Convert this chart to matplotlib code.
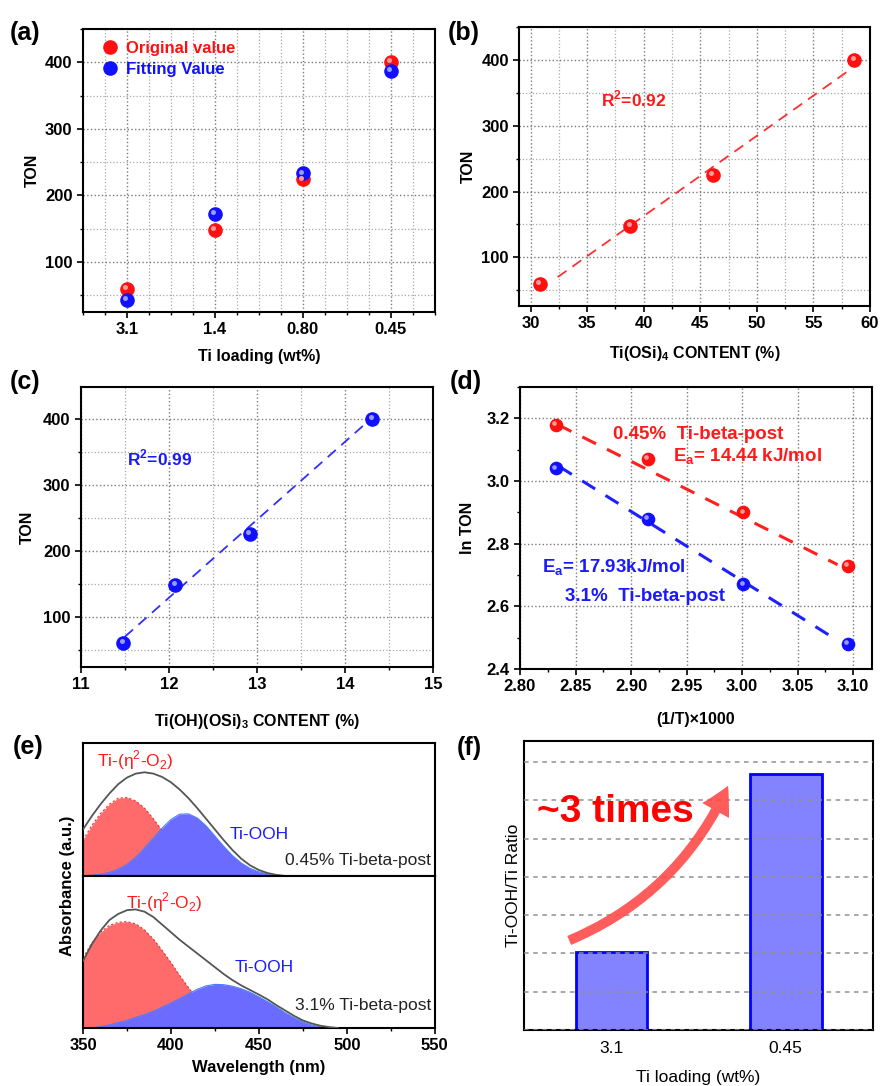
import numpy as np
import matplotlib
matplotlib.use('Agg')
import matplotlib.pyplot as plt
from matplotlib.ticker import MultipleLocator, FormatStrFormatter
from matplotlib.transforms import offset_copy

plt.rcParams['font.family'] = ['Liberation Sans', 'DejaVu Sans']
plt.rcParams['font.weight'] = 'bold'
plt.rcParams['axes.labelweight'] = 'bold'
plt.rcParams['axes.linewidth'] = 1.5
plt.rcParams['xtick.major.width'] = 1.2
plt.rcParams['ytick.major.width'] = 1.2
plt.rcParams['xtick.minor.width'] = 1.0
plt.rcParams['ytick.minor.width'] = 1.0

# (a) TON vs Ti loading
loading = ['3.1', '1.4', '0.80', '0.45']
ton_orig = [60, 148, 224, 400]
ton_fit = [43, 172, 233, 387]

# (b) TON vs Ti(OSi)4 content
osi4 = [30.8, 38.8, 46.1, 58.6]
ton = [60, 148, 225, 400]
osi4_line_x = [32.4, 58.3]
osi4_line_y = [70, 386]

# (c) TON vs Ti(OH)(OSi)3 content
ohosi3 = [11.48, 12.07, 12.92, 14.31]
ohosi3_line_x = [11.5, 14.22]
ohosi3_line_y = [70, 391]

# (d) Arrhenius
inv_t = [2.832, 2.915, 3.001, 3.095]
ln_ton_045 = [3.18, 3.07, 2.90, 2.73]
ln_ton_31 = [3.04, 2.88, 2.67, 2.48]
line_x_045 = [2.834, 3.086]
line_y_045 = [3.18, 2.733]
line_x_31 = [2.835, 3.082]
line_y_31 = [3.047, 2.50]

# (e) UV-vis deconvolution
wl = [350, 355, 360, 365, 370, 375, 380, 385, 390, 395, 400, 405, 410, 415, 420,
      425, 430, 435, 440, 445, 450, 455, 460, 465, 470, 475, 480, 485, 490, 495]
env_045 = [0.35, 0.45, 0.54, 0.62, 0.69, 0.74, 0.77, 0.78, 0.77, 0.745, 0.705, 0.65, 0.585, 0.51, 0.43,
           0.35, 0.27, 0.195, 0.13, 0.08, 0.045, 0.022, 0.008, 0.0, 0.0, 0.0, 0.0, 0.0, 0.0, 0.0]
red_045 = [0.27, 0.38, 0.47, 0.54, 0.585, 0.59, 0.565, 0.51, 0.43, 0.34, 0.25, 0.17, 0.11, 0.07, 0.04,
           0.02, 0.01, 0.0, 0.0, 0.0, 0.0, 0.0, 0.0, 0.0, 0.0, 0.0, 0.0, 0.0, 0.0, 0.0]
blue_045 = [0.0, 0.006, 0.013, 0.027, 0.05, 0.087, 0.14, 0.21, 0.285, 0.36, 0.425, 0.465, 0.467, 0.436, 0.377,
            0.30, 0.223, 0.153, 0.097, 0.057, 0.031, 0.016, 0.007, 0.0, 0.0, 0.0, 0.0, 0.0, 0.0, 0.0]
env_31 = [0.44, 0.55, 0.64, 0.71, 0.75, 0.775, 0.78, 0.765, 0.73, 0.68, 0.63, 0.58, 0.535, 0.49, 0.445,
          0.40, 0.355, 0.315, 0.28, 0.25, 0.22, 0.188, 0.15, 0.115, 0.08, 0.05, 0.03, 0.015, 0.006, 0.0]
red_31 = [0.46, 0.56, 0.63, 0.675, 0.695, 0.70, 0.685, 0.645, 0.585, 0.51, 0.43, 0.345, 0.265, 0.19, 0.13,
          0.085, 0.05, 0.028, 0.013, 0.0, 0.0, 0.0, 0.0, 0.0, 0.0, 0.0, 0.0, 0.0, 0.0, 0.0]
blue_31 = [0.0, 0.0, 0.01, 0.02, 0.035, 0.05, 0.07, 0.088, 0.11, 0.137, 0.165, 0.193, 0.225, 0.255, 0.277,
           0.287, 0.285, 0.275, 0.258, 0.235, 0.205, 0.173, 0.138, 0.10, 0.068, 0.04, 0.02, 0.008, 0.0, 0.0]

# (f) Ti-OOH/Ti ratio
ratio_labels = ['3.1', '0.45']
ratio = [0.203, 0.67]

RED = '#ff1a1a'
BLUE = '#1a1aff'

fig = plt.figure(figsize=(8.8, 10.86), dpi=100)


def balls(ax, x, y, color, shine, size=9.5, label=None):
    ax.plot(x, y, 'o', ms=size, color=color, mec=color, zorder=4, label=label)
    tr = offset_copy(ax.transData, fig=fig, x=-size * 0.12, y=size * 0.14, units='points')
    ax.plot(x, y, 'o', ms=size * 0.38, color=shine, mec='none', transform=tr, zorder=5)


def style(ax, xmaj, xmin, ymaj, ymin, minor_grid=True):
    ax.xaxis.set_major_locator(MultipleLocator(xmaj))
    ax.xaxis.set_minor_locator(MultipleLocator(xmin))
    ax.yaxis.set_major_locator(MultipleLocator(ymaj))
    ax.yaxis.set_minor_locator(MultipleLocator(ymin))
    ax.tick_params(which='major', labelsize=12, length=4, direction='out')
    ax.tick_params(which='minor', length=2.5, direction='out')
    ax.grid(True, which='major', linestyle=':', color='#7a7a7a', linewidth=1.0)
    if minor_grid:
        ax.grid(True, which='minor', linestyle=':', color='#a8a8a8', linewidth=0.9)
    ax.set_axisbelow(True)


# ---------- (a)
ax = fig.add_axes([0.0943, 0.7127, 0.3997, 0.2606])
pos = np.arange(len(loading))
balls(ax, pos, ton_orig, '#ff1010', '#ff9a9a', label='Original value')
balls(ax, pos, ton_fit, '#1010ff', '#9a9aff', label='Fitting Value')
ax.set_xlim(-0.5, 3.5)
ax.set_ylim(25, 450)
style(ax, 1, 0.25, 100, 50)
ax.set_xticks(pos)
ax.set_xticklabels(loading)
ax.set_xlabel('Ti loading (wt%)', fontsize=11.5, labelpad=8.5)
ax.set_ylabel('TON', fontsize=11.5)
leg = ax.legend(loc='upper left', bbox_to_anchor=(0.02, 1.0), frameon=False, fontsize=12,
                handletextpad=0.45, labelspacing=0.4, handlelength=1.0, borderaxespad=0.3)
for t, c in zip(leg.get_texts(), ['#ff1010', '#1010ff']):
    t.set_color(c)

# ---------- (b)
ax = fig.add_axes([0.590, 0.7182, 0.3986, 0.2569])
ax.plot(osi4_line_x, osi4_line_y, color='#ff3030', lw=1.3, dashes=(6, 4), zorder=3)
balls(ax, osi4, ton, '#ff1010', '#ff9a9a')
ax.set_xlim(29, 60)
ax.set_ylim(26, 450)
style(ax, 5, 2.5, 100, 50)
ax.set_xlabel('Ti(OSi)$_\\mathregular{4}$ CONTENT (%)', fontsize=11.5, labelpad=9)
ax.set_ylabel('TON', fontsize=11.5)
ax.text(36.2, 340, 'R$^\\mathregular{2}$=0.92', color=RED, fontsize=12.5, va='center')

# ---------- (c)
ax = fig.add_axes([0.092, 0.3858, 0.4, 0.2578])
ax.plot(ohosi3_line_x, ohosi3_line_y, color='#3030ff', lw=1.3, dashes=(6, 4), zorder=3)
balls(ax, ohosi3, ton, '#1010ff', '#9a9aff')
ax.set_xlim(11, 15)
ax.set_ylim(24, 448)
style(ax, 1, 0.5, 100, 50)
ax.set_xlabel('Ti(OH)(OSi)$_\\mathregular{3}$ CONTENT (%)', fontsize=11.5, labelpad=14)
ax.set_ylabel('TON', fontsize=11.5, labelpad=6)
ax.text(11.52, 340, 'R$^\\mathregular{2}$=0.99', color=BLUE, fontsize=12.5, va='center')

# ---------- (d)
ax = fig.add_axes([0.5909, 0.384, 0.4, 0.2596])
ax.plot(line_x_045, line_y_045, color='#ff2020', lw=2.2, dashes=(5, 4), zorder=3)
ax.plot(line_x_31, line_y_31, color='#2020ff', lw=2.2, dashes=(5, 4), zorder=3)
balls(ax, inv_t, ln_ton_045, '#ff1010', '#ff9a9a', size=8.8)
balls(ax, inv_t, ln_ton_31, '#1010ff', '#9a9aff', size=8.8)
ax.set_xlim(2.80, 3.117)
ax.set_ylim(2.4, 3.3)
style(ax, 0.05, 0.025, 0.2, 0.1, minor_grid=False)
ax.xaxis.set_major_formatter(FormatStrFormatter('%.2f'))
ax.yaxis.set_major_formatter(FormatStrFormatter('%.1f'))
ax.set_xlabel('(1/T)\u00d71000', fontsize=11.5, labelpad=13)
ax.set_ylabel('ln TON', fontsize=11.5, labelpad=8)
ax.text(2.8835, 3.149, '0.45%  Ti-beta-post', color=RED, fontsize=13.5, va='center')
ax.text(2.938, 3.077, 'E$_\\mathregular{a}$= 14.44 kJ/mol', color=RED, fontsize=13.5, va='center')
ax.text(2.8195, 2.722, 'E$_\\mathregular{a}$= 17.93kJ/mol', color=BLUE, fontsize=13.5, va='center')
ax.text(2.8405, 2.63, '3.1%  Ti-beta-post', color=BLUE, fontsize=13.5, va='center')

# ---------- (e)
ax_t = fig.add_axes([0.0943, 0.1934, 0.3997, 0.1224])
ax_b = fig.add_axes([0.0943, 0.0534, 0.3997, 0.1400])
for axe, env, red, blue in [(ax_t, env_045, red_045, blue_045), (ax_b, env_31, red_31, blue_31)]:
    axe.fill_between(wl, 0, red, color='#ff6b6b', lw=0, zorder=1)
    axe.plot(wl, red, color='#e83030', lw=0.8, ls=(0, (2, 2)), zorder=1)
    axe.fill_between(wl, 0, blue, color='#6b6bff', lw=0, zorder=2)
    axe.plot(wl, blue, color='#4a7cff', lw=0.8, zorder=2)
    axe.plot(wl, env, color='#555555', lw=1.3, zorder=3)
    axe.set_xlim(350, 550)
    axe.set_ylim(0, 1.0)
    axe.set_yticks([])
    axe.xaxis.set_major_locator(MultipleLocator(50))
    axe.xaxis.set_minor_locator(MultipleLocator(25))
    axe.tick_params(which='major', labelsize=12, length=4, direction='out')
    axe.tick_params(which='minor', length=2.5, direction='out')
ax_t.tick_params(axis='x', which='both', labelbottom=False, length=0)
ax_b.set_xlabel('Wavelength (nm)', fontsize=12, labelpad=5)
eta = 'Ti-(\u03b7$^\\mathregular{2}$-O$_\\mathregular{2}$)'
ax_t.text(379.5, 0.87, eta, color=RED, fontsize=12.5, fontweight='normal', ha='center', va='center')
ax_b.text(396, 0.83, eta, color=RED, fontsize=12.5, fontweight='normal', ha='center', va='center')
ax_t.text(450, 0.31, 'Ti-OOH', color=BLUE, fontsize=12.5, fontweight='normal', ha='center', va='center')
ax_b.text(453, 0.40, 'Ti-OOH', color=BLUE, fontsize=12.5, fontweight='normal', ha='center', va='center')
ax_t.text(548, 0.12, '0.45% Ti-beta-post', color='#222222', fontsize=12.5, fontweight='normal',
          ha='right', va='center')
ax_b.text(548, 0.15, '3.1% Ti-beta-post', color='#222222', fontsize=12.5, fontweight='normal',
          ha='right', va='center')
fig.text(0.077, 0.1846, 'Absorbance (a.u.)', rotation=90, fontsize=12, ha='center', va='center')

# ---------- (f)
ax = fig.add_axes([0.5955, 0.0516, 0.3966, 0.2661])
xb = np.arange(len(ratio))
ax.bar(xb, ratio, width=0.41, color='#8383ff', edgecolor='#0000ff', linewidth=2)
ax.set_xlim(-0.5, 1.5)
ax.set_ylim(0, 0.755)
ax.yaxis.set_major_locator(MultipleLocator(0.1))
ax.grid(True, axis='y', linestyle=(0, (3, 3)), color='#8f8f8f', linewidth=1.1)
ax.set_axisbelow(False)
ax.set_xticks(xb)
ax.set_xticklabels(ratio_labels, fontweight='normal')
ax.tick_params(axis='x', length=0, labelsize=12.5, pad=8)
ax.tick_params(axis='y', length=0, labelleft=False)
ax.set_xlabel('Ti loading (wt%)', fontsize=12.5, fontweight='normal', labelpad=10)
ax.set_ylabel('Ti-OOH/Ti Ratio', fontsize=12.5, fontweight='normal', labelpad=2)
ax.annotate('', xy=(0.588, 0.854), xytext=(0.122, 0.306), xycoords='axes fraction',
            arrowprops=dict(arrowstyle='simple,head_width=1.1,head_length=1.0,tail_width=0.35',
                            connectionstyle='arc3,rad=0.2', color='#ff4a4a', mutation_scale=20,
                            lw=0, alpha=0.9))
ax.text(0.037, 0.72, '~3 times', transform=ax.transAxes, color='#ff0000', fontsize=28,
        fontweight='bold', va='baseline', ha='left')

# panel letters
for lab, x, y in [('(a)', 0.011, 0.9696), ('(b)', 0.509, 0.9696), ('(c)', 0.011, 0.6483),
                  ('(d)', 0.511, 0.6483), ('(e)', 0.014, 0.312), ('(f)', 0.519, 0.311)]:
    fig.text(x, y, lab, fontsize=18, fontweight='bold', ha='left', va='center')

fig.savefig('out.png', dpi=100)
